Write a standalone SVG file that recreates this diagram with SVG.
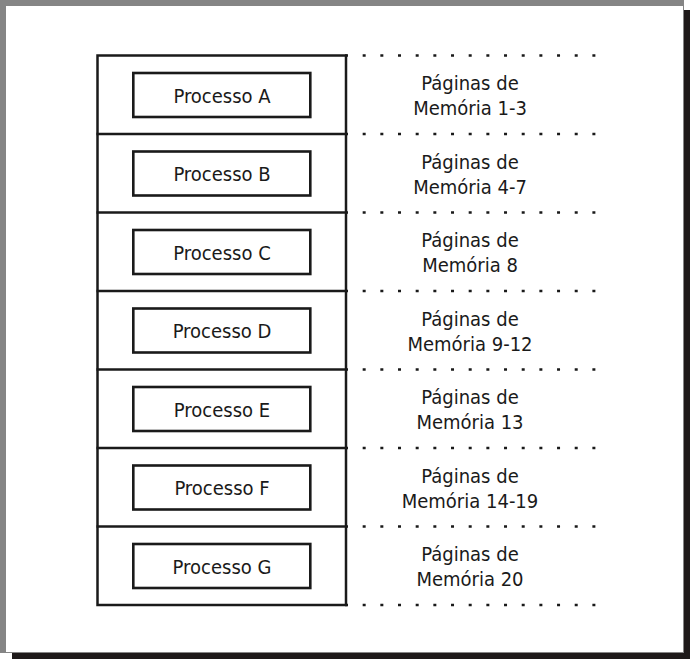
<svg xmlns="http://www.w3.org/2000/svg" width="691" height="661" viewBox="0 0 691 661">
<style>
.frame{fill:none;stroke:#1a1a1a;stroke-width:2.5}
.box{fill:#fff;stroke:#1a1a1a;stroke-width:2.6}
.div{stroke:#1a1a1a;stroke-width:2.5}
.dots{stroke:#1a1a1a;stroke-width:2.5;stroke-dasharray:3 14.67;fill:none}
text{font-family:"DejaVu Sans Condensed","DejaVu Sans",sans-serif;font-stretch:condensed;font-size:20px;fill:#1a1a1a;text-anchor:middle}
</style>
<rect x="12" y="10" width="678" height="649" fill="#1e1a1a"/>
<rect x="0" y="0" width="684" height="653" fill="#858585"/>
<rect x="6" y="6" width="677" height="646" fill="#ffffff"/>
<g id="connectors">
<line class="dots" x1="345" y1="55.5" x2="597" y2="55.5"/>
<line class="dots" x1="345" y1="134" x2="597" y2="134"/>
<line class="dots" x1="345" y1="212.5" x2="597" y2="212.5"/>
<line class="dots" x1="345" y1="291" x2="597" y2="291"/>
<line class="dots" x1="345" y1="369.5" x2="597" y2="369.5"/>
<line class="dots" x1="345" y1="448" x2="597" y2="448"/>
<line class="dots" x1="345" y1="526.5" x2="597" y2="526.5"/>
<line class="dots" x1="345" y1="605" x2="597" y2="605"/>
</g>
<g id="memory">
<rect class="frame" x="97.5" y="55.5" width="248.5" height="549.5"/>
<line class="div" x1="96.5" y1="134" x2="347" y2="134"/>
<line class="div" x1="96.5" y1="212.5" x2="347" y2="212.5"/>
<line class="div" x1="96.5" y1="291" x2="347" y2="291"/>
<line class="div" x1="96.5" y1="369.5" x2="347" y2="369.5"/>
<line class="div" x1="96.5" y1="448" x2="347" y2="448"/>
<line class="div" x1="96.5" y1="526.5" x2="347" y2="526.5"/>
</g>
<g id="procA"><rect class="box" x="133.3" y="73" width="177" height="44"/><text x="222" y="102.5">Processo A</text></g>
<g id="procB"><rect class="box" x="133.3" y="151.5" width="177" height="44"/><text x="222" y="181">Processo B</text></g>
<g id="procC"><rect class="box" x="133.3" y="230" width="177" height="44"/><text x="222" y="259.5">Processo C</text></g>
<g id="procD"><rect class="box" x="133.3" y="308.5" width="177" height="44"/><text x="222" y="338">Processo D</text></g>
<g id="procE"><rect class="box" x="133.3" y="387" width="177" height="44"/><text x="222" y="416.5">Processo E</text></g>
<g id="procF"><rect class="box" x="133.3" y="465.5" width="177" height="44"/><text x="222" y="495">Processo F</text></g>
<g id="procG"><rect class="box" x="133.3" y="544" width="177" height="44"/><text x="222" y="573.5">Processo G</text></g>
<g id="pagesA"><text x="470" y="90">Páginas de</text><text x="470" y="115">Memória 1-3</text></g>
<g id="pagesB"><text x="470" y="168.5">Páginas de</text><text x="470" y="193.5">Memória 4-7</text></g>
<g id="pagesC"><text x="470" y="247">Páginas de</text><text x="470" y="272">Memória 8</text></g>
<g id="pagesD"><text x="470" y="325.5">Páginas de</text><text x="470" y="350.5">Memória 9-12</text></g>
<g id="pagesE"><text x="470" y="404">Páginas de</text><text x="470" y="429">Memória 13</text></g>
<g id="pagesF"><text x="470" y="482.5">Páginas de</text><text x="470" y="507.5">Memória 14-19</text></g>
<g id="pagesG"><text x="470" y="561">Páginas de</text><text x="470" y="586">Memória 20</text></g>
</svg>
